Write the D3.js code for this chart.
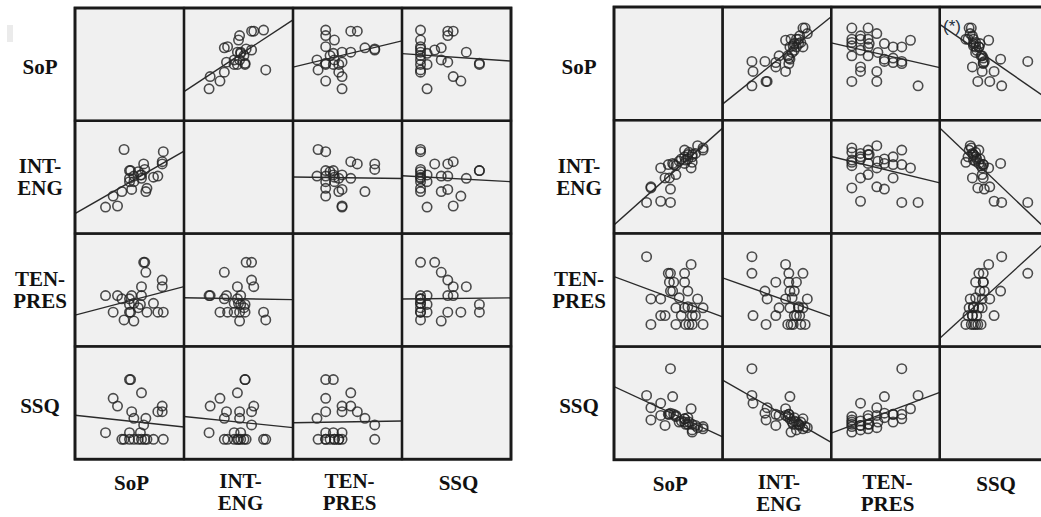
<!DOCTYPE html>
<html>
<head>
<meta charset="utf-8">
<script src="https://cdn.jsdelivr.net/npm/d3@7"></script>
<style>
  body { margin: 0; background: #fff; }
  svg { display: block; }
</style>
</head>
<body>
<svg id="chart" width="1041" height="517"></svg>
<script>
// variable names, split over two lines where the figure does
const labelLines = [['SoP'], ['INT-', 'ENG'], ['TEN-', 'PRES'], ['SSQ']];

// left matrix: one value per respondent, scores on a 0-100 scale
const leftSoP = [28, 35, 39, 50, 51, 61, 52, 54, 65, 63, 76, 80, 80, 50, 60, 43, 45, 50, 54, 58, 61, 64, 66, 72, 81];
const leftInt = [23, 33, 24, 56, 56, 49, 39, 51, 37, 62, 51, 64, 62, 46, 52, 37, 75, 49, 46, 55, 52, 57, 40, 50, 73];
const leftTen = [45, 30, 45, 37, 30, 53, 45, 22, 66, 75, 30, 53, 59, 30, 37, 42, 23, 42, 38, 34, 45, 75, 30, 38, 30];
const leftSsq = [23, 54, 47, 71, 71, 59, 42, 36, 36, 30, 42, 47, 42, 23, 23, 17, 17, 17, 17, 17, 17, 17, 17, 17, 17];

// right matrix
const rightSoP = [30, 71, 52, 50, 65, 51, 55, 65, 52, 54, 68, 34, 43, 77, 57, 65, 72, 82, 43, 47, 72, 75, 34, 57, 66, 69, 72, 82, 62, 68, 60];
const rightInt = [27, 58, 27, 61, 74, 49, 61, 68, 39, 62, 66, 41, 58, 78, 52, 62, 70, 74, 28, 49, 68, 71, 40, 60, 65, 72, 63, 76, 66, 70, 64];
const rightTen = [80, 73, 65, 65, 65, 57, 57, 57, 49, 49, 49, 42, 42, 42, 34, 34, 34, 34, 27, 27, 27, 27, 19, 19, 19, 19, 19, 19, 27, 35, 43];
const rightSsq = [57, 45, 81, 40, 36, 40, 40, 33, 41, 56, 37, 46, 39, 28, 39, 36, 31, 27, 50, 30, 26, 30, 35, 38, 31, 33, 24, 29, 34, 31, 33];

const svg = d3.select('#chart');

const panels = [
    { id: 'left', left: 75, top: 8, cellW: 109, cellH: 112.8, vars: [leftSoP, leftInt, leftTen, leftSsq] },
    { id: 'right', left: 614, top: 7, cellW: 108.6, cellH: 113.2, vars: [rightSoP, rightInt, rightTen, rightSsq] },
];

const ink = '#1a1a1a';
const labelFont = '"Liberation Serif", "Times New Roman", serif';

// least squares fit of ys on xs -> [slope, intercept]
const fitLine = (xs, ys) => {
    const mx = d3.mean(xs);
    const my = d3.mean(ys);
    let sxy = 0;
    let sxx = 0;
    xs.forEach((x, i) => {
        sxy += (x - mx) * (ys[i] - my);
        sxx += (x - mx) * (x - mx);
    });
    const slope = sxy / sxx;
    return [slope, my - slope * mx];
};

const lineGen = d3.line();

// one text element per label, extra lines as tspans
const addLabel = (g, lines, x, y, lineGap) => {
    const t = g.append('text')
        .attr('x', x)
        .attr('y', y)
        .attr('text-anchor', 'middle')
        .style('font', `bold 21px ${labelFont}`)
        .style('fill', '#111');
    lines.forEach((txt, k) => {
        t.append('tspan')
            .attr('x', x)
            .attr('dy', k === 0 ? 0 : lineGap)
            .text(txt);
    });
};

// faint scanning artefact left of the first matrix
svg.append('rect')
    .attr('x', 7).attr('y', 25).attr('width', 6).attr('height', 17)
    .style('fill', '#ebebeb');

panels.forEach((p) => {
    const n = p.vars.length;
    const g = svg.append('g').attr('class', `matrix-${p.id}`);

    const xScales = d3.range(n).map((c) => d3.scaleLinear()
        .domain([0, 100])
        .range([p.left + c * p.cellW, p.left + (c + 1) * p.cellW]));
    const yScales = d3.range(n).map((r) => d3.scaleLinear()
        .domain([0, 100])
        .range([p.top + (r + 1) * p.cellH - 1, p.top + r * p.cellH + 1]));

    const cells = [];
    d3.range(n).forEach((r) => d3.range(n).forEach((c) => cells.push({ r, c })));

    g.selectAll('.cell-bg')
        .data(cells)
        .enter()
        .append('rect')
        .attr('class', 'cell-bg')
        .attr('x', (d) => p.left + d.c * p.cellW)
        .attr('y', (d) => p.top + d.r * p.cellH)
        .attr('width', p.cellW)
        .attr('height', p.cellH)
        .style('fill', '#f0f0f0');

    cells.filter((d) => d.r !== d.c).forEach(({ r, c }) => {
        const xs = p.vars[c];
        const ys = p.vars[r];
        const clipId = `clip-${p.id}-${r}-${c}`;

        g.append('clipPath')
            .attr('id', clipId)
            .append('rect')
            .attr('x', p.left + c * p.cellW)
            .attr('y', p.top + r * p.cellH)
            .attr('width', p.cellW)
            .attr('height', p.cellH);

        const cell = g.append('g').attr('clip-path', `url(#${clipId})`);

        cell.selectAll('circle')
            .data(xs.map((x, i) => [x, ys[i]]))
            .enter()
            .append('circle')
            .attr('cx', (d) => xScales[c](d[0]))
            .attr('cy', (d) => yScales[r](d[1]))
            .attr('r', 4.7)
            .style('fill', 'none')
            .style('stroke', '#222')
            .style('stroke-opacity', 0.8)
            .style('stroke-width', 1.6);

        const [slope, icpt] = fitLine(xs, ys);
        cell.append('path')
            .attr('d', lineGen([0, 100].map((v) => [xScales[c](v), yScales[r](icpt + slope * v)])))
            .style('fill', 'none')
            .style('stroke', '#2a2a2a')
            .style('stroke-width', 1.4);
    });

    // grid over the cells
    g.selectAll('.cell-frame')
        .data(cells)
        .enter()
        .append('rect')
        .attr('class', 'cell-frame')
        .attr('x', (d) => p.left + d.c * p.cellW)
        .attr('y', (d) => p.top + d.r * p.cellH)
        .attr('width', p.cellW)
        .attr('height', p.cellH)
        .style('fill', 'none')
        .style('stroke', ink)
        .style('stroke-width', 2.3);

    g.append('rect')
        .attr('x', p.left)
        .attr('y', p.top)
        .attr('width', n * p.cellW)
        .attr('height', n * p.cellH)
        .style('fill', 'none')
        .style('stroke', ink)
        .style('stroke-width', 2.8);

    // row labels
    labelLines.forEach((lines, i) => {
        const cy = p.top + (i + 0.5) * p.cellH;
        addLabel(g, lines, p.left - 35, cy + (lines.length === 1 ? 10 : -4), 22);
    });

    // column labels
    const bottom = p.top + n * p.cellH;
    labelLines.forEach((lines, i) => {
        const cx = p.left + (i + 0.5) * p.cellW + 2;
        addLabel(g, lines, cx, bottom + (lines.length === 1 ? 31 : 29), 22);
    });
});

// significance marker in the right matrix
svg.append('text')
    .attr('x', 943)
    .attr('y', 32)
    .style('font', '17px "Liberation Sans", Arial, sans-serif')
    .style('fill', '#24313f')
    .text('(*)');
</script>
</body>
</html>
